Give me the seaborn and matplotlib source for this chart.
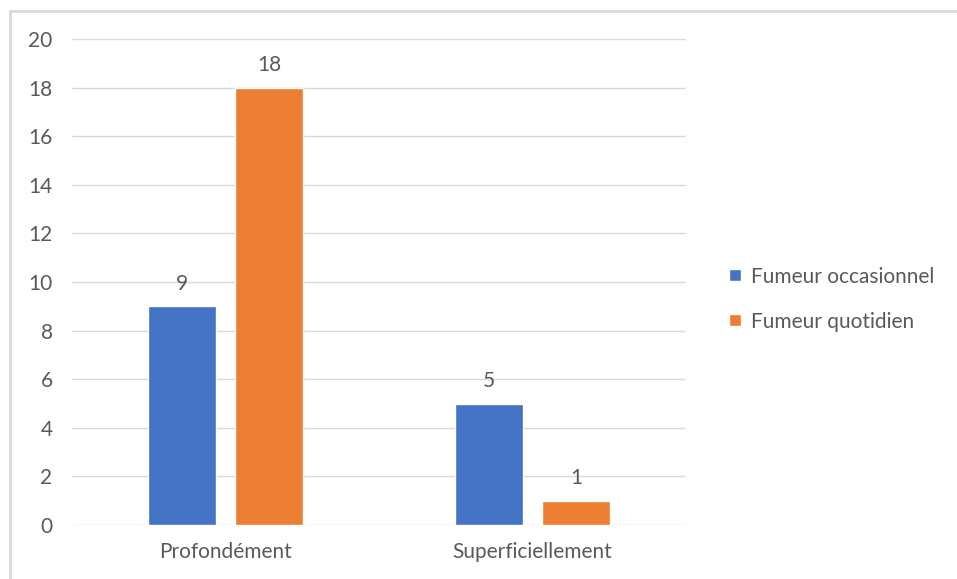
import matplotlib
matplotlib.use("Agg")
import matplotlib.pyplot as plt
import seaborn as sns
import pandas as pd

categories = ["Profondément", "Superficiellement"]
series_names = ["Fumeur occasionnel", "Fumeur quotidien"]
occasionnel = [9, 5]
quotidien = [18, 1]
y_ticks = [0, 2, 4, 6, 8, 10, 12, 14, 16, 18, 20]

colors = ["#4472C4", "#ED7D31"]
text_color = "#595959"
grid_color = "#D9D9D9"

df = pd.DataFrame({
    "categorie": categories * 2,
    "serie": [series_names[0]] * 2 + [series_names[1]] * 2,
    "valeur": occasionnel + quotidien,
})

sns.set_theme(style="white")
plt.rcParams["font.family"] = ["Lato", "DejaVu Sans"]

fs = 15

fig = plt.figure(figsize=(9.57, 5.79), dpi=100)
ax = fig.add_axes([72 / 957, 1 - 525 / 579, (686 - 72) / 957, (525 - 39) / 579])

sns.barplot(data=df, x="categorie", y="valeur", hue="serie",
            palette=colors, width=0.568, gap=0.218, ax=ax,
            saturation=1, legend=True)

ax.set_xlim(-0.5, 1.5)
ax.set_ylim(0, 20)
ax.set_yticks(y_ticks)
ax.set_xlabel("")
ax.set_ylabel("")
ax.grid(axis="y", color=grid_color, linewidth=1)
ax.set_axisbelow(True)
for s in ax.spines.values():
    s.set_visible(False)
ax.tick_params(axis="both", length=0, colors=text_color, labelsize=fs)
ax.tick_params(axis="y", pad=14)
ax.tick_params(axis="x", pad=12)

for container in ax.containers:
    ax.bar_label(container, fmt="%g", padding=9, color=text_color, fontsize=fs)

handles, labels = ax.get_legend_handles_labels()
ax.legend(handles, labels, loc="center left", bbox_to_anchor=(1.04, 0.465),
          frameon=False, fontsize=fs, labelcolor=text_color,
          handlelength=0.55, handleheight=0.55, handletextpad=0.5,
          labelspacing=1.2)

# Light frame along the top and left edges of the chart area
fig.add_artist(plt.Line2D([9.5 / 957, 9.5 / 957], [0, 1 - 11 / 579],
                          transform=fig.transFigure, color=grid_color, linewidth=2))
fig.add_artist(plt.Line2D([9.5 / 957, 1], [1 - 11 / 579, 1 - 11 / 579],
                          transform=fig.transFigure, color=grid_color, linewidth=2))

fig.savefig("out.png", dpi=100, facecolor="white")
